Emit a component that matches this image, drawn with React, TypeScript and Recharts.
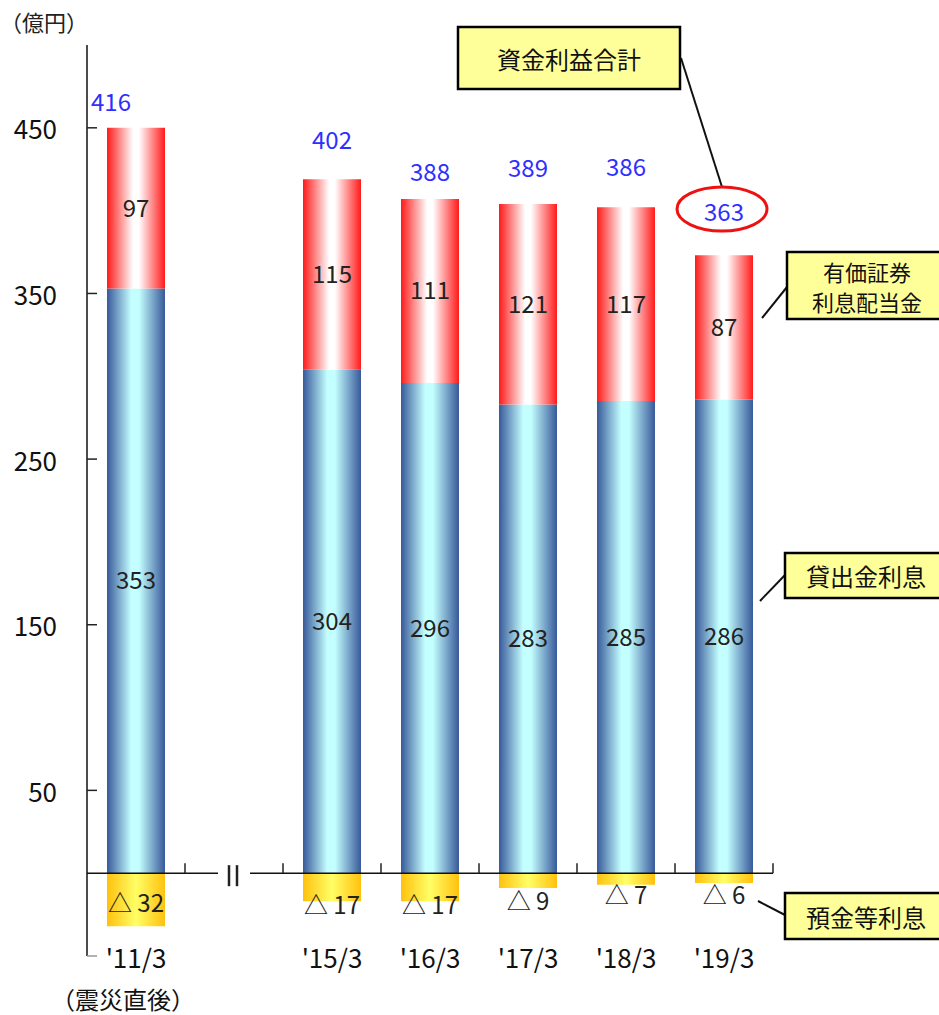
import React from "react";
import {
  BarChart,
  Bar,
  XAxis,
  YAxis,
  LabelList,
  ReferenceLine,
  ReferenceDot,
} from "recharts";

// Fiscal year-end periods (blank slot marks the axis break)
const categories = ["'11/3", " ", "'15/3", "'16/3", "'17/3", "'18/3", "'19/3"];
// 貸出金利息 (loan interest), 億円
const loanInterest = [353, null, 304, 296, 283, 285, 286];
// 有価証券利息配当金 (securities interest & dividends), 億円
const securitiesIncome = [97, null, 115, 111, 121, 117, 87];
// 預金等利息 (deposit interest, a cost), 億円
const depositInterest = [-32, null, -17, -17, -9, -7, -6];
// 資金利益合計 (net interest income), 億円
const fundingTotal = [416, null, 402, 388, 389, 386, 363];
const yTicks = [-50, 50, 150, 250, 350, 450];

// label placement tweaks, one per drawn bar (the break slot has no bar)
const totalLift = [27, 41, 29, 38, 42, 45];
const totalShift = [-25, 0, 0, 0, 0, 0];
const depositDrop = [28, 30, 30, 26, 20, 20];

const rows = categories.map((cat, i) => ({
  cat,
  dep: depositInterest[i],
  loan: loanInterest[i],
  sec: securitiesIncome[i],
  total: fundingTotal[i],
}));

const FONT = "'Noto Sans CJK JP', 'Noto Sans', sans-serif";
const HALF_BAND = 49;

const num = (v: any) => (typeof v === "number" ? v : Number(v));

const TotalLabel = (props: any) => {
  const { value, index } = props;
  if (value === null || value === undefined) return null;
  const vb = props.viewBox || {};
  const x = num(props.x ?? vb.x);
  const y = num(props.y ?? vb.y);
  const w = num(props.width ?? vb.width);
  return (
    <text
      x={x + w / 2 + (totalShift[index] ?? 0)}
      y={y - (totalLift[index] ?? 36)}
      textAnchor="middle"
      dominantBaseline="central"
      fill="#2f2fff"
      fontSize={24}
      fontFamily={FONT}
    >
      {value}
    </text>
  );
};

const DepositLabel = (props: any) => {
  const { value, index } = props;
  if (value === null || value === undefined) return null;
  const vb = props.viewBox || {};
  const x = num(props.x ?? vb.x);
  const y = num(props.y ?? vb.y);
  const w = num(props.width ?? vb.width);
  const h = num(props.height ?? vb.height);
  const top = Math.min(y, y + h);
  return (
    <text
      x={x + w / 2}
      y={top + (depositDrop[index] ?? 26)}
      textAnchor="middle"
      dominantBaseline="central"
      fill="#222"
      fontSize={24}
      fontFamily={FONT}
    >
      {`△ ${Math.abs(num(value))}`}
    </text>
  );
};

const YTick = (props: any) => {
  const { x, y, payload } = props;
  const v = payload.value;
  const faint = v < 0;
  return (
    <g>
      <line
        x1={x}
        x2={x + 10}
        y1={y}
        y2={y}
        stroke={faint ? "#999" : "#222"}
        strokeWidth={1.5}
      />
      {!faint && (
        <text
          x={x - 30}
          y={y}
          textAnchor="end"
          dominantBaseline="central"
          fill="#111"
          fontSize={26}
          fontFamily={FONT}
        >
          {v}
        </text>
      )}
    </g>
  );
};

const XTick = (props: any) => {
  const { x, y, payload } = props;
  return (
    <text
      x={x}
      y={y}
      textAnchor="middle"
      dominantBaseline="central"
      fill="#111"
      fontSize={26}
      fontFamily={FONT}
    >
      {payload.value}
    </text>
  );
};

const BoundaryTick = (props: any) => {
  const { cx, cy } = props;
  return (
    <line
      x1={cx + HALF_BAND}
      x2={cx + HALF_BAND}
      y1={cy}
      y2={cy - 10}
      stroke="#222"
      strokeWidth={1.5}
    />
  );
};

const BreakMark = (props: any) => {
  const { cx, cy } = props;
  return (
    <g>
      <rect x={cx - 16} y={cy - 4} width={32} height={8} fill="#fff" />
      <line x1={cx - 5} x2={cx - 5} y1={cy - 8} y2={cy + 13} stroke="#222" strokeWidth={2.5} />
      <line x1={cx + 3} x2={cx + 3} y1={cy - 8} y2={cy + 13} stroke="#222" strokeWidth={2.5} />
    </g>
  );
};

const Callout = ({
  x,
  y,
  w,
  h,
  lines,
}: {
  x: number;
  y: number;
  w: number;
  h: number;
  lines: string[];
}) => (
  <g>
    <rect x={x} y={y} width={w} height={h} fill="#ffff99" stroke="#000" strokeWidth={2.5} />
    {lines.map((t, i) => (
      <text
        key={t}
        x={x + w / 2}
        y={y + h / 2 + (i - (lines.length - 1) / 2) * 30}
        textAnchor="middle"
        dominantBaseline="central"
        fontSize={lines.length > 1 ? 22 : 24}
        fontFamily={FONT}
        fill="#111"
      >
        {t}
      </text>
    ))}
  </g>
);

export default function App() {
  return (
    <div
      style={{
        position: "absolute",
        left: 0,
        top: 0,
        width: 939,
        height: 1015,
        background: "#fff",
        overflow: "hidden",
      }}
    >
      <BarChart
        width={939}
        height={1015}
        data={rows}
        stackOffset="sign"
        barSize={58}
        margin={{ top: 45, right: 166, bottom: 0, left: 0 }}
      >
        <defs>
          <linearGradient id="gLoan" x1="0" y1="0" x2="1" y2="0">
            <stop offset="0" stopColor="#38599a" />
            <stop offset="0.42" stopColor="#c4ffff" />
            <stop offset="0.55" stopColor="#c4ffff" />
            <stop offset="1" stopColor="#38599a" />
          </linearGradient>
          <linearGradient id="gSec" x1="0" y1="0" x2="1" y2="0">
            <stop offset="0" stopColor="#ff1a1a" />
            <stop offset="0.45" stopColor="#ffffff" />
            <stop offset="0.55" stopColor="#ffffff" />
            <stop offset="1" stopColor="#ff1a1a" />
          </linearGradient>
          <linearGradient id="gDep" x1="0" y1="0" x2="1" y2="0">
            <stop offset="0" stopColor="#ffc10e" />
            <stop offset="0.5" stopColor="#ffff66" />
            <stop offset="1" stopColor="#ffc10e" />
          </linearGradient>
        </defs>
        <XAxis
          dataKey="cat"
          axisLine={false}
          tickLine={false}
          tickSize={0}
          tickMargin={0}
          height={59}
          interval={0}
          tick={<XTick />}
        />
        <YAxis
          width={87}
          domain={[-50, 500]}
          ticks={yTicks}
          allowDataOverflow
          tickLine={false}
          tickSize={0}
          tickMargin={0}
          axisLine={{ stroke: "#111", strokeWidth: 1.5 }}
          tick={<YTick />}
        />
        <ReferenceLine y={0} stroke="#111" strokeWidth={1.5} />
        {categories.map((c) => (
          <ReferenceDot key={`t${c}`} x={c} y={0} r={0} shape={<BoundaryTick />} />
        ))}
        <ReferenceDot x={" "} y={0} r={0} shape={<BreakMark />} />
        <Bar dataKey="dep" stackId="a" fill="url(#gDep)" isAnimationActive={false}>
          <LabelList dataKey="dep" content={<DepositLabel />} />
        </Bar>
        <Bar dataKey="loan" stackId="a" fill="url(#gLoan)" isAnimationActive={false}>
          <LabelList
            dataKey="loan"
            position="center"
            fill="#222"
            fontSize={24}
            fontFamily={FONT}
          />
        </Bar>
        <Bar dataKey="sec" stackId="a" fill="url(#gSec)" isAnimationActive={false}>
          <LabelList
            dataKey="sec"
            position="center"
            fill="#222"
            fontSize={24}
            fontFamily={FONT}
          />
          <LabelList dataKey="total" content={<TotalLabel />} />
        </Bar>
      </BarChart>
      <svg
        width={939}
        height={1015}
        style={{ position: "absolute", left: 0, top: 0, pointerEvents: "none" }}
      >
        <text x={0} y={21} dominantBaseline="central" fontSize={22} fontFamily={FONT} fill="#222">
          （億円）
        </text>
        <text x={51} y={998} dominantBaseline="central" fontSize={24} fontFamily={FONT} fill="#111">
          （震災直後）
        </text>
        <line x1={681} y1={58} x2={722} y2={187} stroke="#111" strokeWidth={2} />
        <ellipse cx={722} cy={209} rx={45} ry={22} fill="none" stroke="#ee1111" strokeWidth={3} />
        <line x1={787} y1={287} x2={762} y2={318} stroke="#111" strokeWidth={2} />
        <line x1={785} y1={575} x2={760} y2={601} stroke="#111" strokeWidth={2} />
        <line x1={785} y1={915} x2={758} y2={901} stroke="#111" strokeWidth={2} />
        <Callout x={458} y={27} w={222} h={62} lines={["資金利益合計"]} />
        <Callout x={787} y={252} w={160} h={67} lines={["有価証券", "利息配当金"]} />
        <Callout x={785} y={553} w={162} h={45} lines={["貸出金利息"]} />
        <Callout x={785} y={893} w={162} h={46} lines={["預金等利息"]} />
      </svg>
    </div>
  );
}
